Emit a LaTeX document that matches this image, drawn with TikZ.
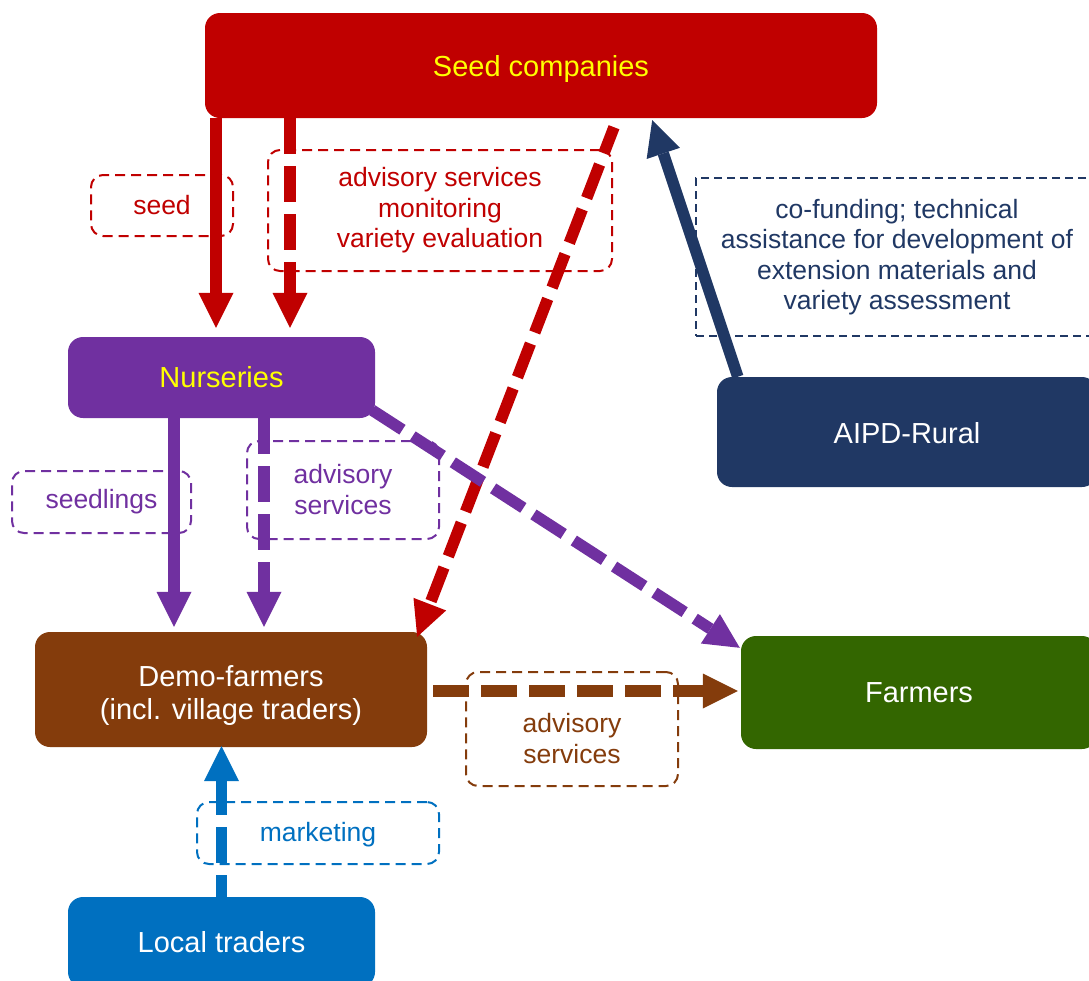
\documentclass[tikz,border=0pt]{standalone}
\usepackage{fontspec}
\setmainfont{Liberation Sans}
\usetikzlibrary{arrows.meta,calc}

\definecolor{seedred}{HTML}{C00000}
\definecolor{nurspurple}{HTML}{7030A0}
\definecolor{aipdnavy}{HTML}{203864}
\definecolor{demobrown}{HTML}{843C0C}
\definecolor{farmgreen}{HTML}{336600}
\definecolor{tradeblue}{HTML}{0070C0}
\definecolor{tagyellow}{HTML}{FFFF00}

% lowers a block of centred lines without changing its size
\newcommand{\lowerlines}[2]{\raisebox{-#1}[\height][\depth]{\begin{tabular}{@{}c@{}}#2\end{tabular}}}

\tikzset{
  actor/.style={rounded corners=15pt, inner sep=0pt, align=center,
    font=\fontsize{29}{33}\selectfont, text=white},
  tag/.style={draw, rounded corners=12pt, line width=2pt,
    dash pattern=on 10pt off 6pt, inner sep=0pt, align=center,
    font=\fontsize{26.5}{30.5}\selectfont},
  flow/.style={line width=11.5pt,
    -{Triangle[width=35pt,length=35pt,line width=0pt]}},
  dashflow/.style={flow, dash pattern=on 36pt off 12pt},
}

\begin{document}
\begin{tikzpicture}[x=1pt,y=-1pt]
\clip (0,0) rectangle (1089,980);

% organisations
\node[actor, fill=seedred, text=tagyellow, minimum width=672pt, minimum height=105pt]
  (seed) at (541,65.5) {\lowerlines{4pt}{Seed companies}};
\node[actor, fill=nurspurple, text=tagyellow, minimum width=307pt, minimum height=81pt]
  (nurs) at (221.5,377.5) {Nurseries};
\node[actor, fill=aipdnavy, minimum width=380pt, minimum height=110pt]
  (aipd) at (907,432) {\lowerlines{5pt}{AIPD-Rural}};
\node[actor, fill=demobrown, minimum width=392pt, minimum height=115pt]
  (demo) at (231,689.5) {\lowerlines{7pt}{Demo-farmers\\(incl. village traders)}};
\node[actor, fill=farmgreen, minimum width=356pt, minimum height=113pt]
  (farm) at (919,692.5) {Farmers};
\node[actor, fill=tradeblue, minimum width=307pt, minimum height=90pt]
  (trad) at (221.5,942) {Local traders};

% flow labels
\node[tag, seedred, minimum width=142pt, minimum height=61pt]
  (lseed) at (162,205.5) {seed};
\node[tag, seedred, minimum width=344pt, minimum height=121pt]
  (ladvsc) at (440,210.5) {advisory services\\monitoring\\variety evaluation};
\node[tag, aipdnavy, sharp corners, line width=1.5pt, dash pattern=on 8pt off 5pt,
  minimum width=402pt, minimum height=158pt]
  (lfund) at (897,257) {co-funding; technical\\assistance for development of\\extension materials and\\variety assessment};
\node[tag, nurspurple, minimum width=179pt, minimum height=62pt]
  (lseedl) at (101.5,502) {seedlings};
\node[tag, nurspurple, minimum width=192pt, minimum height=98pt]
  (ladvns) at (343,490) {\lowerlines{3pt}{advisory\\services}};
\node[tag, demobrown, minimum width=212pt, minimum height=114pt]
  (ladvdf) at (572,729) {\lowerlines{13pt}{advisory\\services}};
\node[tag, tradeblue, minimum width=242pt, minimum height=62pt]
  (lmark) at (318,833) {\lowerlines{2pt}{marketing}};

% flows
\draw[flow, seedred, shorten >=9pt] (216,0 |- seed.south) -- (216,0 |- nurs.north);
\draw[dashflow, seedred, shorten >=9pt] (290,0 |- seed.south) -- (290,0 |- nurs.north);
\draw[dashflow, seedred, dash phase=8pt]
  ($(seed.south)+(73,9)$) -- ($(demo.north east)+(-10,5)$);
\draw[flow, aipdnavy] ($(aipd.north west)+(21,0)$) -- ($(seed.south east)+(-225,2)$);
\draw[flow, nurspurple, shorten >=5pt] (174,0 |- nurs.south) -- (174,0 |- demo.north);
\draw[dashflow, nurspurple, shorten >=5pt] (264,0 |- nurs.south) -- (264,0 |- demo.north);
\draw[dashflow, nurspurple]
  ($(nurs.south east)+(-3,-8)$) -- ($(farm.north west)+(-1,12)$);
\draw[dashflow, demobrown]
  ($(demo.east)+(6,1.5)$) -- ($(farm.west)+(-3,-1.5)$);
\draw[dashflow, tradeblue, dash phase=14pt, shorten >=-1pt]
  (trad.north) -- (trad.north |- demo.south);
\end{tikzpicture}
\end{document}
